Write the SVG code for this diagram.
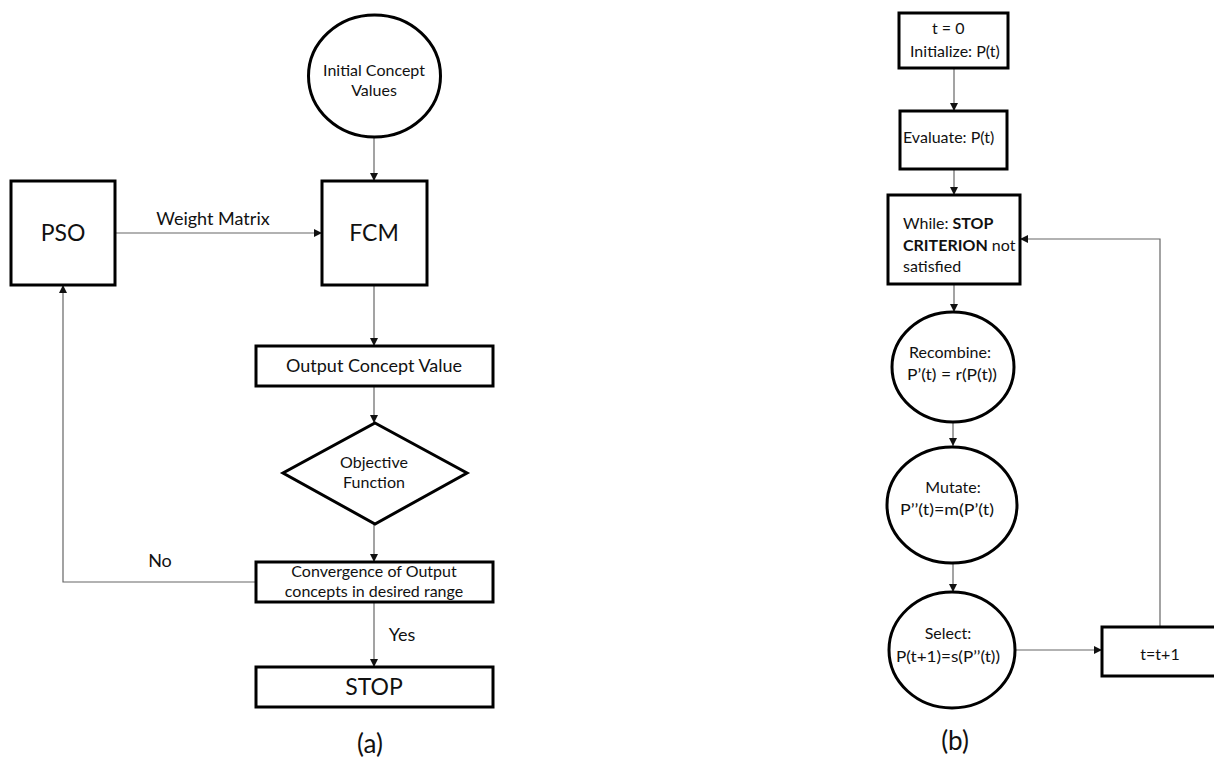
<svg xmlns="http://www.w3.org/2000/svg" width="1214" height="762" viewBox="0 0 1214 762">
<defs>
<marker id="ah" viewBox="0 0 10 10" refX="10" refY="5" markerWidth="8" markerHeight="8" markerUnits="userSpaceOnUse" orient="auto">
<path d="M0,0 L10,5 L0,10 z" fill="#111"/>
</marker>
<style>
.n{fill:#fff;stroke:#000;stroke-width:3}
.c{fill:none;stroke:#666;stroke-width:1.2}
.a{marker-end:url(#ah)}
text{font-family:Lato,"Liberation Sans",sans-serif;fill:#111}
.m{text-anchor:middle}
.s14{font-size:16px}
.s16{font-size:18px}
.s18{font-size:18px}
.s24{font-size:23px}
.s22{font-size:26px}
</style>
</defs>
<rect width="1214" height="762" fill="#fff"/>
<g id="connectors">
<line class="c a" x1="374" y1="137" x2="374" y2="181"/>
<line class="c a" x1="115" y1="233" x2="322" y2="233"/>
<line class="c a" x1="374" y1="285" x2="374" y2="346"/>
<line class="c a" x1="374" y1="386" x2="374" y2="423"/>
<line class="c a" x1="374" y1="524" x2="374" y2="562"/>
<polyline class="c a" points="256,582 63,582 63,285"/>
<line class="c a" x1="374" y1="602" x2="374" y2="667"/>
<line class="c a" x1="954" y1="68" x2="954" y2="111"/>
<line class="c a" x1="954" y1="169" x2="954" y2="195"/>
<line class="c a" x1="954" y1="284" x2="954" y2="312"/>
<line class="c a" x1="953" y1="423" x2="953" y2="446"/>
<line class="c a" x1="953" y1="563" x2="953" y2="592"/>
<line class="c a" x1="1015" y1="650" x2="1102" y2="650"/>
<polyline class="c a" points="1160,627 1160,239 1020,239"/>
<text class="s16 m" x="213" y="225">Weight Matrix</text>
<text class="s16 m" x="160" y="567">No</text>
<text class="s16 m" x="402" y="641">Yes</text>
</g>
<g id="initial">
<ellipse class="n" cx="374.5" cy="76" rx="66" ry="61"/>
<text class="s14 m" x="374" y="76">Initial Concept</text>
<text class="s14 m" x="374" y="96">Values</text>
</g>
<g id="pso">
<rect class="n" x="11" y="181" width="104" height="104"/>
<text class="s24 m" x="63" y="241">PSO</text>
</g>
<g id="fcm">
<rect class="n" x="322" y="181" width="105" height="104"/>
<text class="s24 m" x="374" y="241">FCM</text>
</g>
<g id="output">
<rect class="n" x="256" y="346" width="237" height="40"/>
<text class="s18 m" x="374" y="372">Output Concept Value</text>
</g>
<g id="objective">
<polygon class="n" points="375,423 467,473 375,524 283,473"/>
<text class="s14 m" x="374" y="468">Objective</text>
<text class="s14 m" x="374" y="488">Function</text>
</g>
<g id="convergence">
<rect class="n" x="256" y="562" width="237" height="40"/>
<text class="s14 m" x="374" y="577">Convergence of Output</text>
<text class="s14 m" x="374" y="597">concepts in desired range</text>
</g>
<g id="stop">
<rect class="n" x="256" y="667" width="237" height="40"/>
<text class="s24 m" x="374" y="695">STOP</text>
</g>
<text class="s22 m" x="370" y="753">(a)</text>
<g id="init">
<rect class="n" x="899" y="13" width="109" height="55"/>
<text class="s14" x="932" y="34">t  = 0</text>
<text class="s14" x="910" y="57">Initialize: P(t)</text>
</g>
<g id="evaluate">
<rect class="n" x="900" y="111" width="107" height="58"/>
<text class="s14" x="903" y="143">Evaluate: P(t)</text>
</g>
<g id="while">
<rect class="n" x="888" y="195" width="132" height="89"/>
<text class="s14" x="903" y="229">While: <tspan font-weight="bold">STOP</tspan></text>
<text class="s14" x="903" y="251"><tspan font-weight="bold">CRITERION</tspan> not</text>
<text class="s14" x="903" y="272">satisfied</text>
</g>
<g id="recombine">
<ellipse class="n" cx="953" cy="367" rx="61" ry="55"/>
<text class="s14 m" x="950" y="358">Recombine:</text>
<text class="s14" x="907" y="380" textLength="90" lengthAdjust="spacingAndGlyphs">P’(t) = r(P(t))</text>
</g>
<g id="mutate">
<ellipse class="n" cx="952" cy="505" rx="65" ry="58"/>
<text class="s14 m" x="953" y="493">Mutate:</text>
<text class="s14" x="900" y="515" textLength="94" lengthAdjust="spacingAndGlyphs">P’’(t)=m(P’(t)</text>
</g>
<g id="select">
<ellipse class="n" cx="952" cy="650" rx="63" ry="58"/>
<text class="s14 m" x="948" y="639">Select:</text>
<text class="s14" x="896" y="662" textLength="104" lengthAdjust="spacingAndGlyphs">P(t+1)=s(P’’(t))</text>
</g>
<g id="increment">
<rect class="n" x="1102" y="627" width="116" height="49"/>
<text class="s14 m" x="1160" y="660">t=t+1</text>
</g>
<text class="s22 m" x="955" y="750">(b)</text>
</svg>
